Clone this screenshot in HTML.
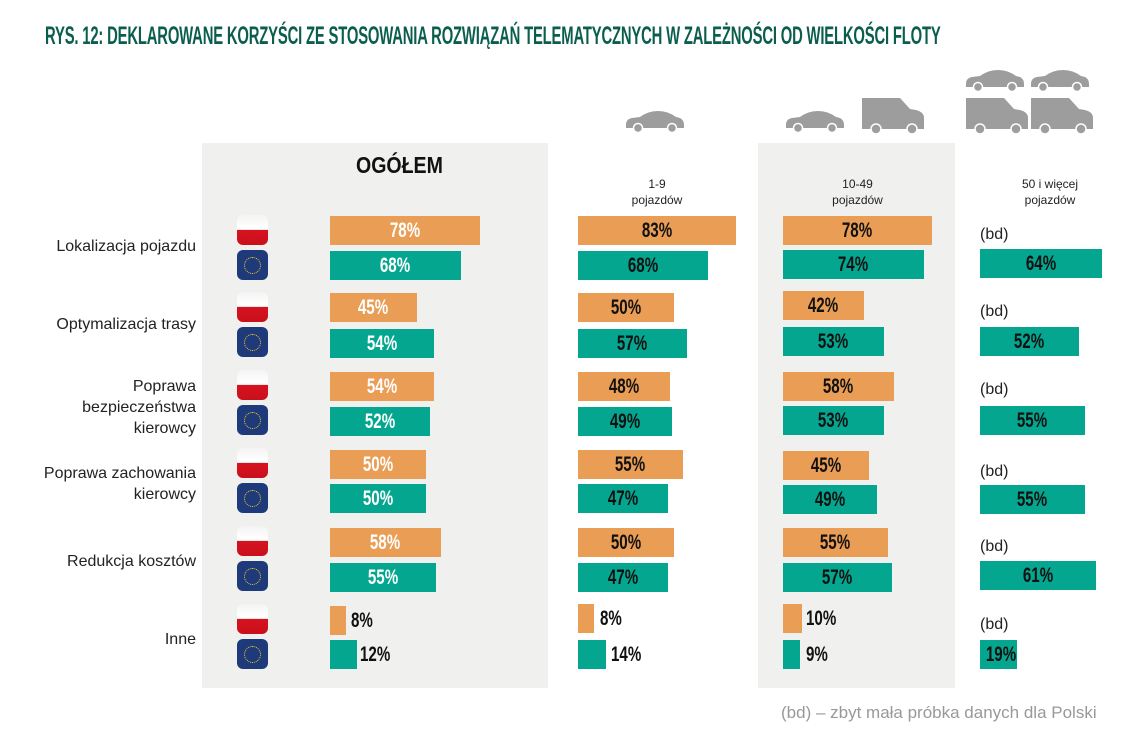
<!DOCTYPE html>
<html><head><meta charset="utf-8"><style>
body{margin:0;width:1143px;height:740px;background:#fff;position:relative;overflow:hidden;font-family:"Liberation Sans",sans-serif}
.a{position:absolute}
.t{left:45px;top:22px;font-family:"Liberation Sans",sans-serif;font-weight:bold;font-size:25px;color:#0b5e4e;letter-spacing:-0.3px;transform:scaleX(0.593);transform-origin:0 0;white-space:nowrap}
.p{background:#f0f0ee}
.b{position:absolute;height:29px;line-height:29px;text-align:center;font-family:"Liberation Sans",sans-serif;font-weight:bold;font-size:21px;color:#111;white-space:nowrap}
.b span,.s span{display:inline-block;transform:scaleX(0.72)}
.s span{transform-origin:0 50%}
.o{background:#ea9d55}.g{background:#04a690}
.w{color:#fff}
.s{position:absolute;height:29px;line-height:29px;font-family:"Liberation Sans",sans-serif;font-weight:bold;font-size:21px;color:#111;white-space:nowrap}
.l{position:absolute;right:947px;text-align:right;font-size:16px;color:#222;line-height:21px;white-space:nowrap}
.pl{position:absolute;left:237px;width:31px;height:30px;border-radius:6px;background:linear-gradient(#f4f4f4 0,#fff 45%,#ddd 50%,#d8121f 50%,#c8101c 100%)}
.eu{position:absolute;left:237px;width:31px;height:30px;border-radius:6px;background:#1e3a7a}
.eu:after{content:"";position:absolute;left:7px;top:7px;width:15px;height:15px;border-radius:50%;border:1.5px dotted #f3cc1a}
.h{position:absolute;font-size:12px;text-align:center;color:#222;line-height:16px}
.bd{position:absolute;left:980px;font-size:16px;color:#222}
</style></head><body>
<div class="a t">RYS. 12: DEKLAROWANE KORZYŚCI ZE STOSOWANIA ROZWIĄZAŃ TELEMATYCZNYCH W ZALEŻNOŚCI OD WIELKOŚCI FLOTY</div>
<div class="a p" style="left:202px;top:143px;width:346px;height:545px"></div>
<div class="a p" style="left:758px;top:143px;width:197px;height:545px"></div>
<div class="a" style="left:356px;top:152px;font-weight:bold;font-size:23px;color:#111;transform:scaleX(0.85);transform-origin:0 0">OGÓŁEM</div>
<div class="h" style="left:578px;width:158px;top:176px">1-9<br>pojazdów</div>
<div class="h" style="left:783px;width:149px;top:176px">10-49<br>pojazdów</div>
<div class="h" style="left:990px;width:120px;top:176px">50 i więcej<br>pojazdów</div>
<svg class="a" style="left:0;top:0" width="1143" height="140">
<defs><g id="car"><path d="M0,14 Q0,8 6,7 L14,6 Q22,0 32,0 Q42,0 50,6 L54,7 Q58,9 58,14 L58,17 L0,17Z" fill="#9d9d9d"/><circle cx="12" cy="17" r="4.5" fill="#9d9d9d" stroke="#fff" stroke-width="1.5"/><circle cx="46" cy="17" r="4.5" fill="#9d9d9d" stroke="#fff" stroke-width="1.5"/></g>
<g id="van"><path d="M0,0 L38,0 L48,11 L54,12 Q62,14 62,20 L62,31 L0,31Z" fill="#9d9d9d"/><circle cx="14" cy="31" r="5" fill="#9d9d9d" stroke="#fff" stroke-width="1.5"/><circle cx="50" cy="31" r="5" fill="#9d9d9d" stroke="#fff" stroke-width="1.5"/></g></defs>
<use href="#car" x="626" y="111"/>
<use href="#car" x="786" y="111"/><use href="#van" x="862" y="98"/>
<use href="#car" x="966" y="70"/><use href="#car" x="1031" y="70"/>
<use href="#van" x="966" y="98"/><use href="#van" x="1031" y="98"/>
</svg>

<div class="l" style="top:236px">Lokalizacja pojazdu</div>
<div class="l" style="top:314px">Optymalizacja trasy</div>
<div class="l" style="top:376px">Poprawa<br>bezpieczeństwa<br>kierowcy</div>
<div class="l" style="top:463px">Poprawa zachowania<br>kierowcy</div>
<div class="l" style="top:551px">Redukcja kosztów</div>
<div class="l" style="top:629px">Inne</div>

<div class="pl" style="top:215px"></div><div class="eu" style="top:250px"></div>
<div class="pl" style="top:292px"></div><div class="eu" style="top:327px"></div>
<div class="pl" style="top:370px"></div><div class="eu" style="top:405px"></div>
<div class="pl" style="top:448px"></div><div class="eu" style="top:483px"></div>
<div class="pl" style="top:526px"></div><div class="eu" style="top:561px"></div>
<div class="pl" style="top:604px"></div><div class="eu" style="top:639px"></div>

<div class="b o w" style="left:330px;top:216px;width:150px"><span>78%</span></div>
<div class="b g w" style="left:330px;top:251px;width:131px"><span>68%</span></div>
<div class="b o w" style="left:330px;top:293px;width:87px"><span>45%</span></div>
<div class="b g w" style="left:330px;top:329px;width:104px"><span>54%</span></div>
<div class="b o w" style="left:330px;top:372px;width:104px"><span>54%</span></div>
<div class="b g w" style="left:330px;top:407px;width:100px"><span>52%</span></div>
<div class="b o w" style="left:330px;top:450px;width:96px"><span>50%</span></div>
<div class="b g w" style="left:330px;top:484px;width:96px"><span>50%</span></div>
<div class="b o w" style="left:330px;top:528px;width:111px"><span>58%</span></div>
<div class="b g w" style="left:330px;top:563px;width:106px"><span>55%</span></div>
<div class="b o" style="left:330px;top:606px;width:16px"></div><div class="s" style="left:351px;top:606px"><span>8%</span></div>
<div class="b g" style="left:330px;top:640px;width:27px"></div><div class="s" style="left:360px;top:640px"><span>12%</span></div>

<div class="b o" style="left:578px;top:216px;width:158px"><span>83%</span></div>
<div class="b g" style="left:578px;top:251px;width:130px"><span>68%</span></div>
<div class="b o" style="left:578px;top:293px;width:96px"><span>50%</span></div>
<div class="b g" style="left:578px;top:329px;width:109px"><span>57%</span></div>
<div class="b o" style="left:578px;top:372px;width:92px"><span>48%</span></div>
<div class="b g" style="left:578px;top:407px;width:94px"><span>49%</span></div>
<div class="b o" style="left:578px;top:450px;width:105px"><span>55%</span></div>
<div class="b g" style="left:578px;top:484px;width:90px"><span>47%</span></div>
<div class="b o" style="left:578px;top:528px;width:96px"><span>50%</span></div>
<div class="b g" style="left:578px;top:563px;width:90px"><span>47%</span></div>
<div class="b o" style="left:578px;top:604px;width:16px"></div><div class="s" style="left:600px;top:604px"><span>8%</span></div>
<div class="b g" style="left:578px;top:640px;width:28px"></div><div class="s" style="left:611px;top:640px"><span>14%</span></div>

<div class="b o" style="left:783px;top:216px;width:149px"><span>78%</span></div>
<div class="b g" style="left:783px;top:250px;width:141px"><span>74%</span></div>
<div class="b o" style="left:783px;top:291px;width:81px"><span>42%</span></div>
<div class="b g" style="left:783px;top:327px;width:101px"><span>53%</span></div>
<div class="b o" style="left:783px;top:372px;width:111px"><span>58%</span></div>
<div class="b g" style="left:783px;top:406px;width:101px"><span>53%</span></div>
<div class="b o" style="left:783px;top:451px;width:86px"><span>45%</span></div>
<div class="b g" style="left:783px;top:485px;width:94px"><span>49%</span></div>
<div class="b o" style="left:783px;top:528px;width:105px"><span>55%</span></div>
<div class="b g" style="left:783px;top:563px;width:109px"><span>57%</span></div>
<div class="b o" style="left:783px;top:604px;width:19px"></div><div class="s" style="left:806px;top:604px"><span>10%</span></div>
<div class="b g" style="left:783px;top:640px;width:17px"></div><div class="s" style="left:806px;top:640px"><span>9%</span></div>

<div class="bd" style="top:226px">(bd)</div><div class="b g" style="left:980px;top:249px;width:122px"><span>64%</span></div>
<div class="bd" style="top:303px">(bd)</div><div class="b g" style="left:980px;top:327px;width:99px"><span>52%</span></div>
<div class="bd" style="top:381px">(bd)</div><div class="b g" style="left:980px;top:406px;width:105px"><span>55%</span></div>
<div class="bd" style="top:463px">(bd)</div><div class="b g" style="left:980px;top:485px;width:105px"><span>55%</span></div>
<div class="bd" style="top:538px">(bd)</div><div class="b g" style="left:980px;top:561px;width:116px"><span>61%</span></div>
<div class="bd" style="top:616px">(bd)</div><div class="b g" style="left:980px;top:640px;width:37px"><span>19%</span></div>

<div class="a" style="left:781px;top:703px;font-size:17px;color:#999;white-space:nowrap">(bd) – zbyt mała próbka danych dla Polski</div>
</body></html>
